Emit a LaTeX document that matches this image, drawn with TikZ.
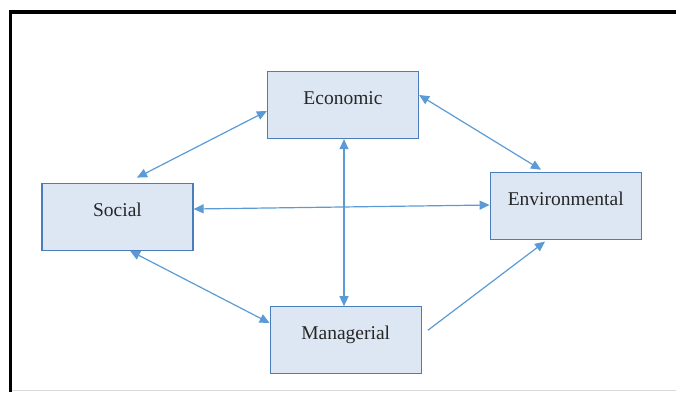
\documentclass[tikz,border=0pt]{standalone}
\usepackage{fontspec}
\setmainfont{Liberation Serif}
\newfontfamily\boxfont{Liberation Serif}
\usetikzlibrary{arrows.meta}

\definecolor{boxfill}{HTML}{DDE7F3}
\definecolor{boxline}{HTML}{4A7EBB}
\definecolor{linkblue}{HTML}{5B9BD5}

\tikzset{
  pillar/.style={draw=boxline, line width=1.2pt, fill=boxfill, rectangle,
    minimum width=151pt, minimum height=67pt, text height=14pt, text depth=15pt,
    font=\boxfont\fontsize{19.5}{23}\selectfont, text=black!85},
  link/.style={draw=linkblue, line width=1.2pt, {Triangle[length=10pt,width=9pt]}-{Triangle[length=10pt,width=9pt]}},
  oneway/.style={draw=linkblue, line width=1.2pt, -{Triangle[length=10pt,width=9pt]}}
}

\begin{document}
\begin{tikzpicture}[x=1pt, y=-1pt]

    % Page area
    \useasboundingbox (0,0) rectangle (676,392);

    % Frame: heavy left and top edges, faint bottom edge
    \draw[line width=3.5pt] (10.7,392) -- (10.7,12) -- (676,12);
    \draw[black!15, line width=1pt] (12,390.7) -- (676,390.7);

    % The four boxes
    \node[pillar] (eco) at (343,105) {Economic};
    \node[pillar] (soc) at (117.5,216.7) {Social};
    \node[pillar] (env) at (565.7,205.8) {Environmental};
    \node[pillar] (mgr) at (345.7,340.3) {Managerial};

    % Two-way links
    \draw[link] ([xshift=19.5pt,yshift=5pt]soc.north) -- ([yshift=-6pt]eco.west);
    \draw[link] ([yshift=10pt]eco.east) -- ([xshift=-24.7pt,yshift=2pt]env.north);
    \draw[link] ([yshift=7.7pt]soc.east) -- ([yshift=0.8pt]env.west);
    \draw[link] ([xshift=1pt]eco.south) -- ([xshift=-1.7pt]mgr.north);
    \draw[link] ([xshift=12.5pt]soc.south) -- ([yshift=17.3pt]mgr.west);

    % One-way link
    \draw[oneway] ([xshift=6pt,yshift=10pt]mgr.east) -- ([xshift=-20.7pt,yshift=-1.7pt]env.south);

\end{tikzpicture}
\end{document}
